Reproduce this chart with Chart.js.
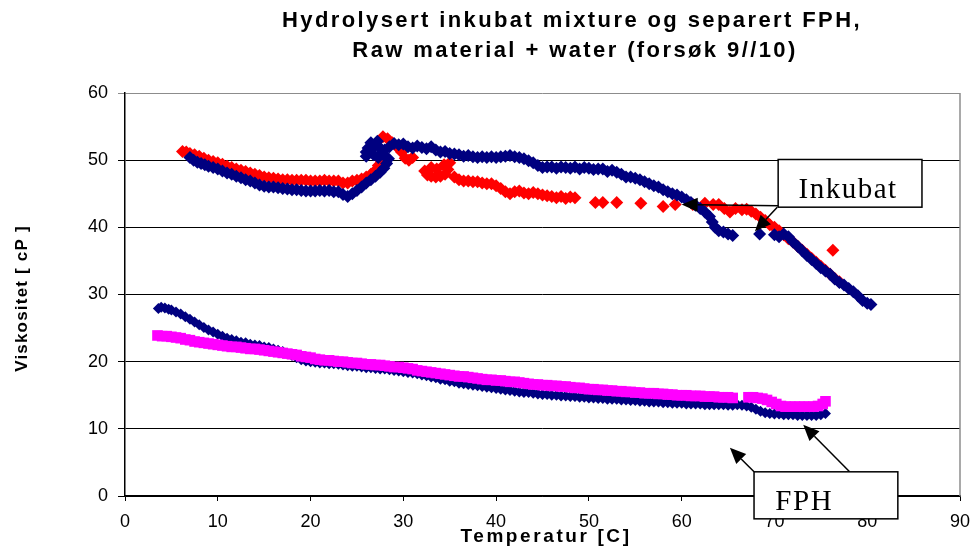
<!DOCTYPE html>
<html>
<head>
<meta charset="utf-8">
<script src="https://cdn.jsdelivr.net/npm/chart.js@4/dist/chart.umd.min.js"></script>
<style>
html,body{margin:0;padding:0;background:#fff;}
canvas{display:block;}
</style>
</head>
<body>
<canvas id="c" width="975" height="548"></canvas>
<script>
// ---- Data (temperature [C], viscosity [cP]) ----
const titleLines = ['Hydrolysert inkubat mixture og separert FPH,', 'Raw material + water (forsøk 9//10)'];
const xTitle = 'Temperatur [C]';
const yTitle = 'Viskositet [ cP ]';
const xTicks = [0,10,20,30,40,50,60,70,80,90];
const yTicks = [0,10,20,30,40,50,60];

const inkubatRed = [
[6.2,51.3],[6.6,51.2],[7.0,51.0],[7.5,50.8],[8.0,50.6],[8.5,50.3],[9.0,50.0],[9.5,49.8],[10.0,49.6],[10.5,49.4],
[11.0,49.1],[11.5,48.9],[12.0,48.7],[12.5,48.5],[13.0,48.3],[13.5,48.1],[14.0,47.9],[14.5,47.7],[15.0,47.5],[15.5,47.4],
[16.0,47.3],[16.5,47.2],[17.0,47.1],[17.5,47.1],[18.0,47.0],[18.5,47.0],[19.0,47.0],[19.5,47.0],[20.0,46.9],[20.5,46.9],
[21.0,46.9],[21.5,47.0],[22.0,46.9],[22.5,46.9],[23.0,46.9],[23.5,46.6],[24.0,46.6],[24.5,46.9],[25.0,47.0],[25.5,47.2],
[26.0,47.5],[26.5,47.9],[27.0,48.5],[27.3,49.2],[27.6,49.9],[27.8,53.5],[28.3,53.2],[28.8,52.6],[29.3,52.0],[29.8,51.2],
[30.2,50.3],[30.6,50.0],[31.0,50.4],[32.3,48.4],[32.6,47.8],[33.0,47.6],[33.5,47.5],[34.0,47.6],[34.5,47.9],[34.8,48.6],
[35.0,49.6],[34.4,49.3],[33.6,48.7],[33.0,48.9],[35.5,47.5],[36.0,47.1],[36.5,46.9],[37.0,46.9],[37.5,46.8],[38.0,46.8],
[38.5,46.6],[39.0,46.5],[39.5,46.5],[40.0,46.2],[40.5,45.8],[41.0,45.3],[41.5,45.0],[42.0,45.3],[42.5,45.4],[43.0,45.1],
[43.5,45.0],[44.0,45.2],[44.5,45.0],[45.0,44.8],[45.5,44.7],[46.0,44.6],[46.5,44.4],[47.0,44.6],[47.5,44.3],[48.0,44.5],
[48.5,44.4],[50.7,43.7],[51.5,43.7],[53.0,43.7],[55.6,43.6],[58.0,43.1],[59.3,43.4],[61.2,43.4],[62.5,43.6],[63.4,43.4],
[64.0,43.4],[64.6,42.8],[65.2,42.3],[65.8,42.8],[66.5,42.6],[67.0,42.7],[67.5,42.4],[68.0,42.0],[68.5,41.5],[69.0,41.0],
[69.5,40.4],[70.0,40.0],[70.5,39.5],[71.0,38.9],[71.5,38.3],[72.0,37.8],[72.5,37.2],[73.0,36.6],[73.5,36.0],[74.0,35.4],
[74.5,34.8],[75.0,34.2],[75.5,33.6],[76.0,33.0],[76.5,32.4],[77.0,31.9],[76.3,36.6]
];

const inkubatNavy = [
[7.0,50.4],[7.4,50.0],[7.8,49.7],[8.2,49.5],[8.6,49.3],[9.0,49.1],[9.5,48.9],[10.0,48.7],[10.5,48.4],[11.0,48.1],
[11.5,47.9],[12.0,47.6],[12.5,47.4],[13.0,47.1],[13.5,46.9],[14.0,46.6],[14.5,46.3],[15.0,46.1],[15.5,46.0],[16.0,46.0],
[16.5,45.9],[17.0,45.8],[17.5,45.7],[18.0,45.6],[18.5,45.6],[19.0,45.5],[19.5,45.4],[20.0,45.4],[20.5,45.4],[21.0,45.5],
[21.5,45.4],[22.0,45.5],[22.5,45.3],[23.0,45.3],[23.5,44.9],[24.0,44.6],[24.5,45.0],[25.0,45.5],[25.5,46.0],[26.0,46.6],
[26.5,47.1],[27.0,47.6],[27.5,48.2],[27.9,48.8],[28.2,49.5],[28.4,50.2],[26.0,50.6],[26.3,51.5],[26.8,50.8],[27.3,50.4],
[27.6,51.0],[28.0,50.6],[26.5,52.6],[27.2,52.8],[26.0,51.2],[26.2,51.8],[26.5,52.0],[27.0,52.2],
[27.5,51.8],[28.0,51.5],[28.5,52.0],[29.0,52.5],[29.5,52.3],[30.0,52.4],[30.5,52.0],[31.0,51.8],[31.5,52.1],[32.0,51.9],
[32.5,51.7],[33.0,52.0],[33.5,51.5],[34.0,51.2],[34.5,51.3],[35.0,51.0],[35.5,50.9],[36.0,50.8],[36.5,50.6],[37.0,50.7],
[37.5,50.5],[38.0,50.4],[38.5,50.5],[39.0,50.4],[39.5,50.5],[40.0,50.4],[40.5,50.5],[41.0,50.6],[41.5,50.7],[42.0,50.5],
[42.5,50.4],[43.0,50.2],[43.5,49.9],[44.0,49.6],[44.5,49.2],[45.0,48.9],[45.5,49.0],[46.0,49.0],[46.5,48.8],[47.0,49.0],
[47.5,48.9],[48.0,48.8],[48.5,49.0],[49.0,48.7],[49.5,48.9],[50.0,48.8],[50.5,48.6],[51.0,48.7],[51.5,48.7],[52.0,48.3],
[52.5,48.5],[53.0,48.2],[53.5,47.9],[54.0,47.5],[54.5,47.5],[55.0,47.3],[55.5,47.1],[56.0,46.8],[56.5,46.5],[57.0,46.2],
[57.5,46.0],[58.0,45.6],[58.5,45.3],[59.0,45.0],[59.5,44.8],[60.0,44.5],[60.5,44.1],[61.0,43.7],[61.5,43.3],[62.0,42.8],
[62.5,42.3],[63.0,41.6],[63.3,40.8],[63.6,40.0],[64.0,39.5],[64.5,39.3],[65.0,39.0],[65.5,38.8],[68.4,39.0],[70.0,38.9],
[70.5,38.6],[71.0,39.0],[71.5,38.6],[72.0,37.8],[72.5,37.2],[73.0,36.5],[73.5,35.8],[74.0,35.2],[74.5,34.6],[75.0,34.0],
[75.5,33.5],[76.0,33.0],[76.5,32.3],[77.0,31.8],[77.5,31.4],[78.0,30.9],[78.5,30.4],[79.0,29.8],[79.5,29.1],[80.0,28.7],
[80.4,28.5]
];

const fphNavy = [
[3.6,27.9],[3.9,28.1],[4.3,28.0],[4.7,27.8],[5.0,27.7],[5.5,27.4],[6.0,27.1],[6.5,26.7],[7.0,26.3],[7.5,25.9],
[8.0,25.5],[8.5,25.1],[9.0,24.7],[9.5,24.4],[10.0,24.1],[10.5,23.8],[11.0,23.5],[11.5,23.3],[12.0,23.1],[12.5,22.9],
[13.0,22.8],[13.5,22.6],[14.0,22.5],[14.5,22.4],[15.0,22.2],[15.5,22.1],[16.0,21.9],[16.5,21.7],[17.0,21.5],[17.5,21.2],
[18.0,20.9],[18.5,20.6],[19.0,20.3],[19.5,20.1],[20.0,20.0],[20.5,19.9],[21.0,19.8],[21.5,19.8],[22.0,19.7],[22.5,19.7],
[23.0,19.6],[23.5,19.5],[24.0,19.4],[24.5,19.3],[25.0,19.3],[25.5,19.2],[26.0,19.1],[26.5,19.1],[27.0,19.0],[27.5,18.9],
[28.0,18.9],[28.5,18.8],[29.0,18.7],[29.5,18.6],[30.0,18.5],[30.5,18.4],[31.0,18.3],[31.5,18.2],[32.0,18.0],[32.5,17.9],
[33.0,17.7],[33.5,17.6],[34.0,17.4],[34.5,17.3],[35.0,17.1],[35.5,17.0],[36.0,16.8],[36.5,16.7],[37.0,16.6],[37.5,16.5],
[38.0,16.4],[38.5,16.3],[39.0,16.2],[39.5,16.1],[40.0,16.0],[40.5,15.9],[41.0,15.8],[41.5,15.7],[42.0,15.6],[42.5,15.5],
[43.0,15.4],[43.5,15.4],[44.0,15.3],[44.5,15.2],[45.0,15.1],[45.5,15.1],[46.0,15.0],[46.5,15.0],[47.0,14.9],[47.5,14.9],
[48.0,14.8],[48.5,14.8],[49.0,14.7],[49.5,14.7],[50.0,14.6],[50.5,14.6],[51.0,14.5],[51.5,14.5],[52.0,14.4],[52.5,14.4],
[53.0,14.4],[53.5,14.3],[54.0,14.3],[54.5,14.2],[55.0,14.2],[55.5,14.1],[56.0,14.1],[56.5,14.0],[57.0,14.0],[57.5,14.0],
[58.0,13.9],[58.5,13.9],[59.0,13.8],[59.5,13.8],[60.0,13.8],[60.5,13.7],[61.0,13.7],[61.5,13.7],[62.0,13.7],[62.5,13.6],
[63.0,13.6],[63.5,13.6],[64.0,13.6],[64.5,13.6],[65.0,13.5],[65.5,13.5],[66.0,13.6],[66.5,13.5],[67.0,13.4],[67.5,13.2],
[68.0,12.9],[68.5,12.6],[69.0,12.4],[69.5,12.3],[70.0,12.2],[70.5,12.2],[71.0,12.1],[71.5,12.1],[72.0,12.1],[72.5,12.0],
[73.0,12.0],[73.5,12.0],[74.0,12.0],[74.5,12.0],[75.0,12.1],[75.5,12.3]
];

const fphMagenta = [
[3.5,23.9],[4.0,23.8],[4.5,23.8],[5.0,23.7],[5.5,23.6],[6.0,23.5],[6.5,23.3],[7.0,23.2],[7.5,23.0],[8.0,22.9],
[8.5,22.8],[9.0,22.7],[9.5,22.6],[10.0,22.5],[10.5,22.4],[11.0,22.3],[11.5,22.2],[12.0,22.2],[12.5,22.1],[13.0,22.0],
[13.5,21.9],[14.0,21.9],[14.5,21.8],[15.0,21.7],[15.5,21.6],[16.0,21.5],[16.5,21.4],[17.0,21.3],[17.5,21.2],[18.0,21.1],
[18.5,21.0],[19.0,20.8],[19.5,20.7],[20.0,20.6],[20.5,20.4],[21.0,20.3],[21.5,20.2],[22.0,20.2],[22.5,20.1],[23.0,20.0],
[23.5,20.0],[24.0,19.9],[24.5,19.8],[25.0,19.8],[25.5,19.7],[26.0,19.6],[26.5,19.6],[27.0,19.5],[27.5,19.5],[28.0,19.4],
[28.5,19.3],[29.0,19.2],[29.5,19.2],[30.0,19.1],[30.5,19.0],[31.0,18.9],[31.5,18.7],[32.0,18.6],[32.5,18.5],[33.0,18.4],
[33.5,18.3],[34.0,18.2],[34.5,18.1],[35.0,18.0],[35.5,17.9],[36.0,17.8],[36.5,17.8],[37.0,17.7],[37.5,17.6],[38.0,17.5],
[38.5,17.4],[39.0,17.3],[39.5,17.3],[40.0,17.2],[40.5,17.2],[41.0,17.1],[41.5,17.0],[42.0,17.0],[42.5,16.9],[43.0,16.8],
[43.5,16.7],[44.0,16.6],[44.5,16.6],[45.0,16.5],[45.5,16.5],[46.0,16.4],[46.5,16.4],[47.0,16.3],[47.5,16.3],[48.0,16.2],
[48.5,16.1],[49.0,16.1],[49.5,16.0],[50.0,15.9],[50.5,15.9],[51.0,15.8],[51.5,15.8],[52.0,15.7],[52.5,15.7],[53.0,15.6],
[53.5,15.6],[54.0,15.5],[54.5,15.5],[55.0,15.4],[55.5,15.4],[56.0,15.3],[56.5,15.3],[57.0,15.3],[57.5,15.2],[58.0,15.2],
[58.5,15.1],[59.0,15.1],[59.5,15.0],[60.0,15.0],[60.5,15.0],[61.0,14.9],[61.5,14.9],[62.0,14.9],[62.5,14.8],[63.0,14.8],
[63.5,14.8],[64.0,14.7],[64.5,14.7],[65.0,14.7],[65.5,14.6],[67.2,14.7],[67.7,14.7],[68.2,14.6],[68.7,14.5],[69.2,14.3],
[69.7,14.0],[70.2,13.7],[70.7,13.4],[71.2,13.3],[71.7,13.3],[72.2,13.3],[72.7,13.3],[73.2,13.3],[73.7,13.3],[74.2,13.3],
[74.7,13.4],[75.2,13.7],[75.5,14.1]
];

// Callout labels (positions in data units)
const callouts = [
  {text:'Inkubat', box:[70.4, 50.1, 85.9, 43.0], textAt:[72.6, 44.4], clipBottom:44.3,
   arrows:[[[70.4,43.2],[60.0,43.4]], [[70.3,43.0],[67.9,39.4]]]},
  {text:'FPH', box:[67.8, 3.6, 83.3, -3.4], textAt:[70.1, -2.1], clipBottom:null,
   arrows:[[[67.8,3.6],[65.2,7.2]], [[78.1,3.6],[73.1,10.6]]]}
];

const toXY = arr => arr.map(p => ({x:p[0], y:p[1]}));

const decor = {
  id:'decor',
  afterDraw(chart){
    const {ctx, chartArea:a, scales:{x, y}} = chart;
    ctx.save();
    // plot-area right border
    ctx.strokeStyle = '#8c8c8c'; ctx.lineWidth = 1.5;
    ctx.beginPath(); ctx.moveTo(a.right, a.top); ctx.lineTo(a.right, a.bottom); ctx.stroke();

    // Title
    ctx.fillStyle = '#000';
    ctx.textAlign = 'center'; ctx.textBaseline = 'middle';
    ctx.font = 'bold 22px "Liberation Sans", Arial, sans-serif';
    ctx.letterSpacing = '2.4px';
    ctx.fillText(titleLines[0], 572, 21);
    ctx.fillText(titleLines[1], 575, 51);

    // axis titles
    ctx.font = 'bold 19px "Liberation Sans", Arial, sans-serif';
    ctx.letterSpacing = '2.6px';
    ctx.fillText(xTitle, 546, 537);
    ctx.save();
    ctx.translate(22, (a.top + a.bottom)/2 + 4);
    ctx.rotate(-Math.PI/2);
    ctx.font = 'bold 17px "Liberation Sans", Arial, sans-serif';
    ctx.letterSpacing = '1.2px';
    ctx.fillText(yTitle, 0, 0);
    ctx.restore();
    ctx.letterSpacing = '0px';

    // callouts
    const arrow = (x0,y0,x1,y1) => {
      const ang = Math.atan2(y1-y0, x1-x0);
      const L = 16, W = 7;
      const bx = x1 - L*Math.cos(ang), by = y1 - L*Math.sin(ang);
      ctx.strokeStyle = '#000'; ctx.lineWidth = 1.5;
      ctx.beginPath(); ctx.moveTo(x0,y0); ctx.lineTo(bx,by); ctx.stroke();
      ctx.fillStyle = '#000';
      ctx.beginPath();
      ctx.moveTo(x1,y1);
      ctx.lineTo(bx + W*Math.sin(ang), by - W*Math.cos(ang));
      ctx.lineTo(bx - W*Math.sin(ang), by + W*Math.cos(ang));
      ctx.closePath(); ctx.fill();
    };
    callouts.forEach(c => {
      c.arrows.forEach(ar => arrow(x.getPixelForValue(ar[0][0]), y.getPixelForValue(ar[0][1]),
                                    x.getPixelForValue(ar[1][0]), y.getPixelForValue(ar[1][1])));
      const l = x.getPixelForValue(c.box[0]), t = y.getPixelForValue(c.box[1]);
      const r = x.getPixelForValue(c.box[2]), b = y.getPixelForValue(c.box[3]);
      ctx.fillStyle = '#fff';
      ctx.fillRect(l, t, r-l, b-t);
      ctx.strokeStyle = '#000'; ctx.lineWidth = 1.5;
      ctx.strokeRect(l, t, r-l, b-t);
      ctx.save();
      ctx.beginPath();
      const cb = c.clipBottom !== null ? y.getPixelForValue(c.clipBottom) : b;
      ctx.rect(l+1, t+1, r-l-2, cb-t-1);
      ctx.clip();
      ctx.fillStyle = '#000';
      ctx.font = '29px "Liberation Serif", "Times New Roman", serif';
      ctx.letterSpacing = '1.5px';
      ctx.textAlign = 'left'; ctx.textBaseline = 'alphabetic';
      ctx.fillText(c.text, x.getPixelForValue(c.textAt[0]), y.getPixelForValue(c.textAt[1]));
      ctx.restore();
    });
    ctx.restore();
  }
};

const tickFont = {family:'"Liberation Sans", Arial, sans-serif', size:18};

new Chart(document.getElementById('c'), {
  type:'scatter',
  data:{
    datasets:[
      {label:'FPH', data:toXY(fphMagenta), backgroundColor:'#FF00FF', borderColor:'#FF00FF', pointStyle:'rect', pointRadius:7.5, borderWidth:0},
      {label:'FPH', data:toXY(fphNavy), backgroundColor:'#000080', borderColor:'#000080', pointStyle:'rectRot', pointRadius:5.5, borderWidth:0},
      {label:'Inkubat', data:toXY(inkubatNavy), backgroundColor:'#000080', borderColor:'#000080', pointStyle:'rectRot', pointRadius:6.5, borderWidth:0},
      {label:'Inkubat', data:toXY(inkubatRed), backgroundColor:'#FF0000', borderColor:'#FF0000', pointStyle:'rectRot', pointRadius:6.5, borderWidth:0}
    ]
  },
  options:{
    responsive:false, animation:false, events:[],
    layout:{padding:{left:0, right:15, top:93, bottom:0}},
    plugins:{legend:{display:false}, title:{display:false}, tooltip:{enabled:false}},
    scales:{
      x:{type:'linear', min:xTicks[0], max:xTicks[xTicks.length-1],
         afterBuildTicks: s => { s.ticks = xTicks.map(v => ({value:v})); },
         ticks:{color:'#000', font:tickFont, padding:10, maxRotation:0, autoSkip:false},
         grid:{display:true, drawOnChartArea:false, drawTicks:true, tickLength:5, color:'#000', lineWidth:1},
         border:{display:true, color:'#000', width:1.5},
         afterFit: s => { s.height = 52; s.paddingLeft = 0; s.paddingRight = 0; }},
      y:{type:'linear', min:yTicks[0], max:yTicks[yTicks.length-1],
         afterBuildTicks: s => { s.ticks = yTicks.map(v => ({value:v})); },
         ticks:{color:'#000', font:tickFont, padding:10, autoSkip:false},
         grid:{display:true, drawTicks:true, tickLength:7, lineWidth:1,
               color: c => (c.tick && c.tick.value === 60) ? '#8c8c8c' : '#000'},
         border:{display:true, color:'#000', width:1.5},
         afterFit: s => { s.width = 125; s.paddingTop = 0; s.paddingBottom = 0; }}
    }
  },
  plugins:[decor]
});
</script>
</body>
</html>
